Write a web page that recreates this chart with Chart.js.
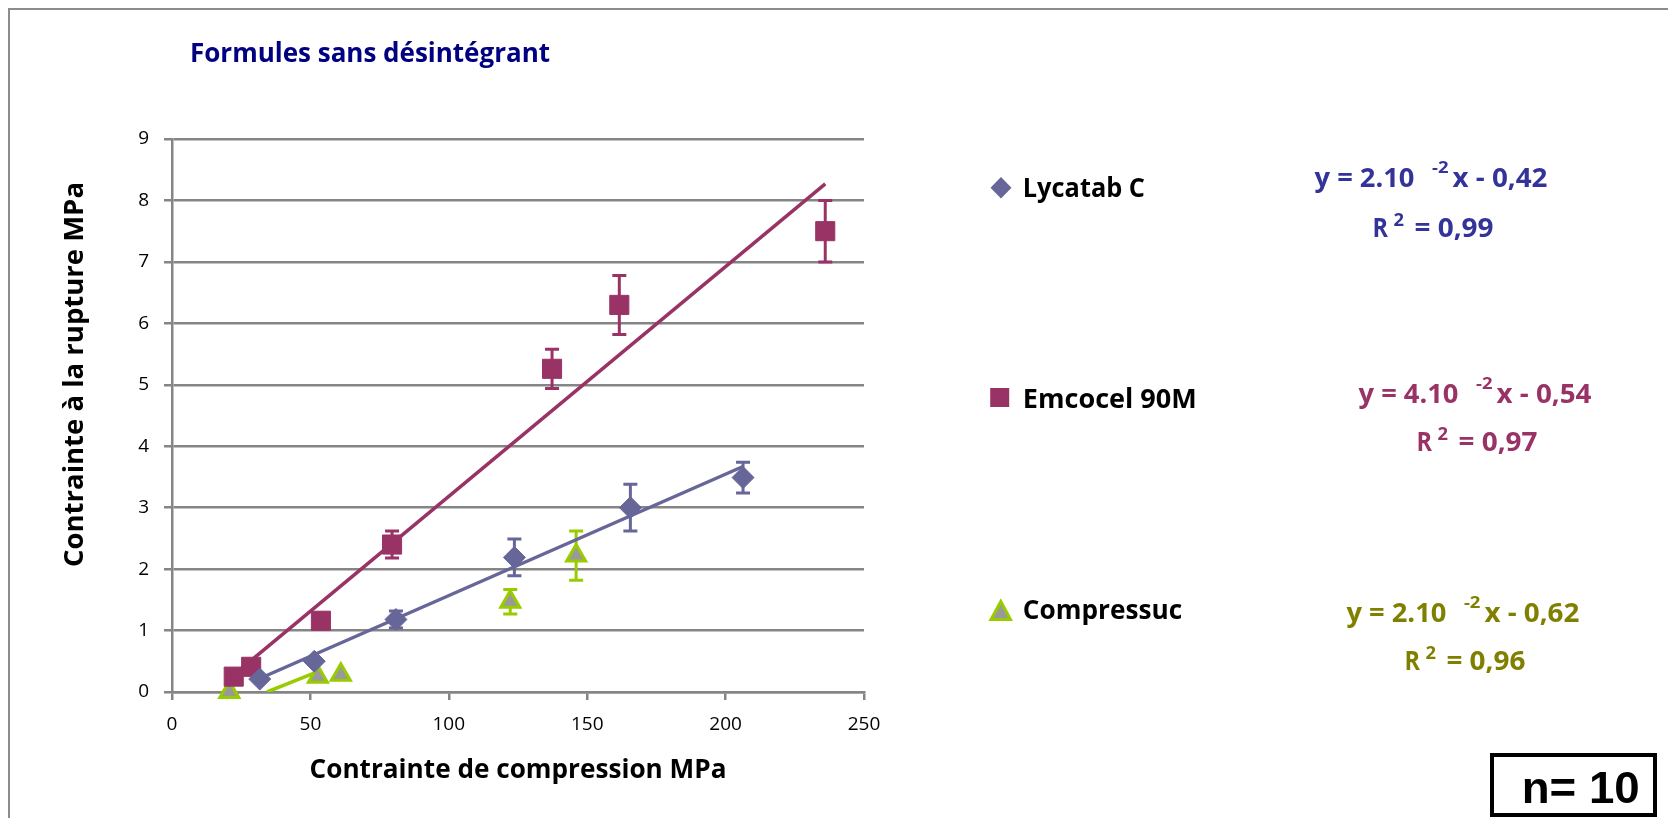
<!DOCTYPE html>
<html>
<head>
<meta charset="utf-8">
<script src="https://cdn.jsdelivr.net/npm/chart.js@4.4.1/dist/chart.umd.min.js"></script>
<style>
  html, body { margin: 0; padding: 0; background: #fff; }
  #wrap { position: relative; width: 1668px; height: 818px; overflow: hidden; }
  #frame { position: absolute; left: 8px; top: 8px; width: 1700px; height: 900px;
           border-left: 2.5px solid #8c8c8c; border-top: 2.5px solid #8c8c8c; }
  #chart { position: absolute; left: 0; top: 0; }
  #over { position: absolute; left: 0; top: 0; pointer-events: none; }
</style>
</head>
<body>
<div id="wrap">
  <div id="frame"></div>
  <canvas id="chart" width="1668" height="818"></canvas>
  <svg id="over" width="1668" height="818" xmlns="http://www.w3.org/2000/svg"></svg>
</div>
<script>
// Données
const seriesNames = ['Lycatab C', 'Emcocel 90M', 'Compressuc'];

const lycatabX = [31.7, 51.4, 80.9, 123.7, 165.6, 206.3];
const lycatabY = [0.21, 0.50, 1.18, 2.19, 3.00, 3.49];
const lycatabErr = [0, 0, 0.14, 0.30, 0.38, 0.25];

const emcocelX = [22.3, 28.6, 53.8, 79.5, 137.3, 161.6, 236.0];
const emcocelY = [0.25, 0.41, 1.16, 2.40, 5.26, 6.30, 7.50];
const emcocelErr = [0, 0, 0, 0.22, 0.32, 0.48, 0.50];

const compressucX = [20.7, 52.7, 61.0, 122.2, 146.0];
const compressucY = [0.00, 0.25, 0.28, 1.47, 2.22];
const compressucErr = [0, 0, 0, 0.20, 0.40];

// courbes de tendance (extrémités lues)
const lycatabTrendX = [31.7, 206.3];
const lycatabTrendY = [0.22, 3.67];
const emcocelTrendX = [22.3, 236.0];
const emcocelTrendY = [0.28, 8.27];
const compressucTrendX = [34.3, 52.7];
const compressucTrendY = [0.00, 0.33];

const xTicks = [0, 50, 100, 150, 200, 250];
const yTicks = [0, 1, 2, 3, 4, 5, 6, 7, 8, 9];

const eqSlopes = ['2.10', '4.10', '2.10'];
const eqIntercepts = ['0,42', '0,54', '0,62'];
const eqR2 = ['0,99', '0,97', '0,96'];

const colLyc = '#666699';
const colEmc = '#993366';
const colCmp = '#99cc00';

const pts = (xs, ys) => xs.map((x, i) => ({x: x, y: ys[i]}));

function fitSize(text, weight, family, target) {
    const c = document.createElement('canvas').getContext('2d');
    c.font = weight + ' 100px "' + family + '"';
    return 100 * target / c.measureText(text).width;
}

const xTitle = 'Contrainte de compression MPa';
const xTitleSize = fitSize(xTitle, 'bold', 'Open Sans', 417);

// barres d'erreur, dessinées via les échelles du graphique
const errorBars = {
    id: 'errorBars',
    beforeDatasetsDraw(chart) {
        const ctx = chart.ctx;
        const y = chart.scales.y;
        chart.data.datasets.forEach((ds, i) => {
            if (!ds.errors) return;
            const meta = chart.getDatasetMeta(i);
            ctx.save();
            ctx.strokeStyle = ds.errorColor;
            ctx.lineWidth = 3;
            meta.data.forEach((p, j) => {
                const e = ds.errors[j];
                if (!e) return;
                const top = y.getPixelForValue(ds.data[j].y + e);
                const bot = y.getPixelForValue(ds.data[j].y - e);
                ctx.beginPath();
                ctx.moveTo(p.x, top); ctx.lineTo(p.x, bot);
                ctx.moveTo(p.x - 7, top); ctx.lineTo(p.x + 7, top);
                ctx.moveTo(p.x - 7, bot); ctx.lineTo(p.x + 7, bot);
                ctx.stroke();
            });
            ctx.restore();
        });
    }
};

const gridCol = '#858585';

new Chart(document.getElementById('chart'), {
    type: 'scatter',
    data: {
        datasets: [
            {
                label: seriesNames[0], data: pts(lycatabX, lycatabY), errors: lycatabErr, errorColor: colLyc,
                pointStyle: 'rectRot', pointRadius: 11, backgroundColor: colLyc, borderColor: colLyc,
                borderWidth: 1, clip: false
            },
            {
                label: seriesNames[1], data: pts(emcocelX, emcocelY), errors: emcocelErr, errorColor: colEmc,
                pointStyle: 'rect', pointRadius: 13.5, backgroundColor: colEmc, borderColor: colEmc,
                borderWidth: 1, clip: false
            },
            {
                label: seriesNames[2], data: pts(compressucX, compressucY), errors: compressucErr, errorColor: colCmp,
                pointStyle: 'triangle', pointRadius: 11, backgroundColor: '#999999', borderColor: colCmp,
                borderWidth: 3, clip: false
            },
            {
                label: 'tendance ' + seriesNames[0], data: pts(lycatabTrendX, lycatabTrendY),
                showLine: true, pointRadius: 0, borderColor: colLyc, borderWidth: 3.5
            },
            {
                label: 'tendance ' + seriesNames[1], data: pts(emcocelTrendX, emcocelTrendY),
                showLine: true, pointRadius: 0, borderColor: colEmc, borderWidth: 3.5
            },
            {
                label: 'tendance ' + seriesNames[2], data: pts(compressucTrendX, compressucTrendY),
                showLine: true, pointRadius: 0, borderColor: colCmp, borderWidth: 3.5
            }
        ]
    },
    options: {
        responsive: false,
        animation: false,
        layout: { padding: { left: 0, top: 139, right: 804, bottom: 0 } },
        plugins: { legend: { display: false }, tooltip: { enabled: false } },
        scales: {
            x: {
                type: 'linear',
                min: xTicks[0], max: xTicks[xTicks.length - 1],
                afterFit: s => { s.height = 126; },
                ticks: { stepSize: xTicks[1] - xTicks[0], padding: 13, color: '#000',
                         font: { family: 'Open Sans', size: 19 } },
                grid: { drawOnChartArea: false, drawTicks: true, tickLength: 8, color: gridCol, lineWidth: 2.5 },
                border: { color: gridCol, width: 2.5 },
                title: { display: true, text: xTitle, color: '#000',
                         font: { family: 'Open Sans', weight: 'bold', size: xTitleSize },
                         padding: { top: 0, bottom: 32 } }
            },
            y: {
                min: yTicks[0], max: yTicks[yTicks.length - 1],
                afterFit: s => { s.width = 172; },
                ticks: { stepSize: yTicks[1] - yTicks[0], padding: 15, color: '#000',
                         font: { family: 'Open Sans', size: 19 } },
                grid: { color: gridCol, lineWidth: 2.5, tickLength: 8 },
                border: { color: gridCol, width: 2.5 }
            }
        }
    },
    plugins: [errorBars]
});

// textes autour du graphique
const svg = document.getElementById('over');
const NS = 'http://www.w3.org/2000/svg';
function txt(x, y, s, size, color, len, extra) {
    const t = document.createElementNS(NS, 'text');
    t.setAttribute('x', x);
    t.setAttribute('y', y);
    t.setAttribute('font-family', 'Open Sans');
    t.setAttribute('font-weight', 'bold');
    t.setAttribute('font-size', size);
    t.setAttribute('fill', color);
    if (len) {
        t.setAttribute('textLength', len);
        t.setAttribute('lengthAdjust', 'spacingAndGlyphs');
    }
    if (extra) for (const k in extra) t.setAttribute(k, extra[k]);
    t.textContent = s;
    svg.appendChild(t);
    return t;
}
function shape(tag, attrs) {
    const e = document.createElementNS(NS, tag);
    for (const k in attrs) e.setAttribute(k, attrs[k]);
    svg.appendChild(e);
}

txt(190, 61.7, 'Formules sans désintégrant', 26, '#000080', 360);
txt(0, 0, 'Contrainte à la rupture MPa', 26, '#000', 385, { transform: 'translate(82.5,567) rotate(-90)' });

// légende
shape('polygon', { points: '1001,177 1011.5,187.7 1001,198.4 990.5,187.7', fill: colLyc });
shape('rect', { x: 990.2, y: 388, width: 19, height: 19, fill: colEmc });
shape('polygon', { points: '1000.8,601.5 1010.5,619.5 991,619.5', fill: '#999999', stroke: colCmp, 'stroke-width': 3 });
txt(1022.8, 196.8, seriesNames[0], 26, '#000', 122.2);
txt(1022.8, 408.3, seriesNames[1], 26, '#000', 174);
txt(1022.8, 618.8, seriesNames[2], 26, '#000', 159.4);

// équations des droites
const eqColors = ['#333399', '#993366', '#808000'];
const eqX = [1314.5, 1358.5, 1346.4];
const eqY = [187, 403, 622.3];
const eqY2 = [237, 450.5, 670.3];
for (let i = 0; i < 3; i++) {
    const x0 = eqX[i], c = eqColors[i];
    txt(x0, eqY[i], 'y = ' + eqSlopes[i], 26, c, 100);
    txt(x0 + 117.5, eqY[i] - 14.5, '-2', 16, c, 16.5);
    txt(x0 + 138, eqY[i], 'x - ' + eqIntercepts[i], 26, c, 95);
    txt(x0 + 58, eqY2[i], 'R', 26, c, 15.5);
    txt(x0 + 79, eqY2[i] - 11, '2', 17, c, 10.5);
    txt(x0 + 100, eqY2[i], '= ' + eqR2[i], 26, c, 79);
}

// encadré n = 10
shape('rect', { x: 1492, y: 755, width: 163, height: 60, fill: '#fff', stroke: '#000', 'stroke-width': 4 });
const n = txt(1521.7, 803.3, 'n= 10', 44, '#000', 118);
n.setAttribute('font-family', 'Liberation Sans');
</script>
</body>
</html>
